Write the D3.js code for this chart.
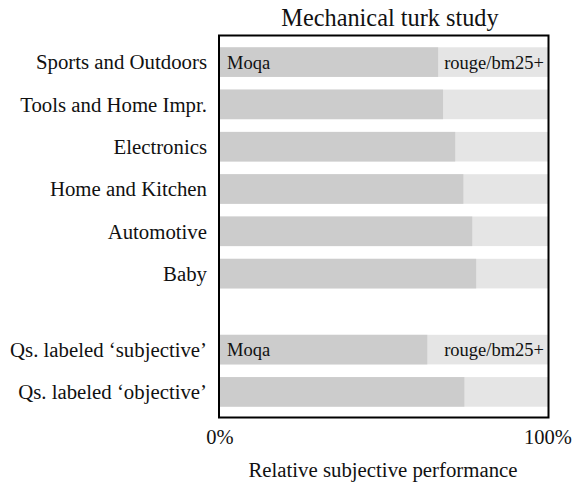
<!DOCTYPE html>
<html><head><meta charset="utf-8">
<script src="https://cdn.jsdelivr.net/npm/d3@7"></script>
<style>body{margin:0;background:#fff}svg{display:block}text{font-family:"Liberation Serif","Times New Roman",serif;fill:#111}</style>
</head><body><div id="chart"></div>
<script>
const categories = ["Sports and Outdoors","Tools and Home Impr.","Electronics","Home and Kitchen","Automotive","Baby","Qs. labeled \u2018subjective\u2019","Qs. labeled \u2018objective\u2019"];
const groups = ["cat","cat","cat","cat","cat","cat","sum","sum"];
const moqaValues = [66.5, 68.0, 71.7, 74.2, 76.9, 78.1, 63.2, 74.5];
const tickLabels = ["0%","100%"];
const tickValues = [0,100];
const seriesNames = ["Moqa","rouge/bm25+"];
const labeledRows = [0,6];

const W=578,H=482;
const svg=d3.select("#chart").append("svg").attr("width",W).attr("height",H);
const x=d3.scaleLinear().domain([0,100]).range([220,548]);
const step=42.3, gap=33.7;
const y=d3.scaleBand().domain(categories).range([40.95,40.95+8*step]).paddingInner(0.3).paddingOuter(0.15);
const yPos=(c,i)=>y(c)+(groups[i]==="sum"?gap:0);

svg.selectAll("rect.bg").data(categories).join("rect").attr("class","bg")
  .attr("x",x(0)).attr("width",x(100)-x(0))
  .attr("y",(c,i)=>yPos(c,i)).attr("height",y.bandwidth()).attr("fill","#e5e5e5");
svg.selectAll("rect.fg").data(categories).join("rect").attr("class","fg")
  .attr("x",x(0)).attr("width",(c,i)=>x(moqaValues[i])-x(0))
  .attr("y",(c,i)=>yPos(c,i)).attr("height",y.bandwidth()).attr("fill","#cccccc");

svg.append("rect").attr("x",219).attr("y",35.5).attr("width",329.5).attr("height",382)
  .attr("fill","none").attr("stroke","#000").attr("stroke-width",2);

svg.selectAll("text.cat").data(categories).join("text").attr("class","cat")
  .attr("x",207).attr("y",(c,i)=>yPos(c,i)+y.bandwidth()/2).attr("dy","0.35em")
  .attr("text-anchor","end").attr("font-size",20.8).text(d=>d);

labeledRows.forEach(r=>{
  const c=categories[r];
  svg.append("text").attr("x",x(0)+7).attr("y",yPos(c,r)+y.bandwidth()/2).attr("dy","0.35em")
    .attr("font-size",18.5).text(seriesNames[0]);
  svg.append("text").attr("x",x(100)-4).attr("y",yPos(c,r)+y.bandwidth()/2).attr("dy","0.35em")
    .attr("text-anchor","end").attr("font-size",18.5).text(seriesNames[1]);
});

svg.selectAll("text.tick").data(tickValues).join("text").attr("class","tick")
  .attr("x",d=>x(d)).attr("y",444).attr("text-anchor","middle").attr("font-size",20.5)
  .text((d,i)=>tickLabels[i]);

svg.append("text").attr("x",383).attr("y",477).attr("text-anchor","middle").attr("font-size",20.8)
  .text("Relative subjective performance");
svg.append("text").attr("x",390).attr("y",26).attr("text-anchor","middle").attr("font-size",24.3)
  .text("Mechanical turk study");
</script></body></html>
